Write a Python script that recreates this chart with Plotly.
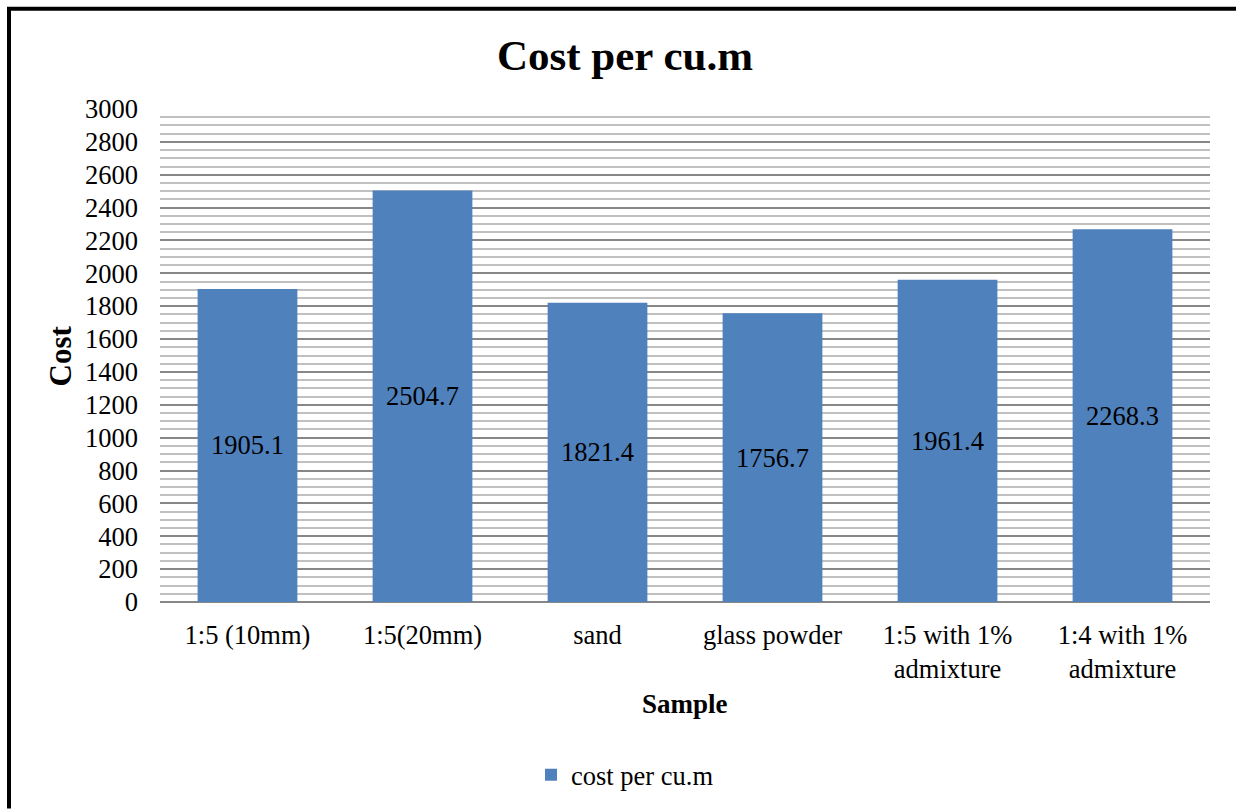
import plotly.graph_objects as go

samples = ["1:5 (10mm)", "1:5(20mm)", "sand", "glass powder",
           "1:5 with 1%<br>admixture", "1:4 with 1%<br>admixture"]
cost = [1905.1, 2504.7, 1821.4, 1756.7, 1961.4, 2268.3]
y_ticks = list(range(0, 3001, 200))

W, H = 1236, 810
L, R, T, B = 160, 26, 109, 207
PW, PH = W - L - R, H - T - B

def px_x(x):
    return (x - L) / PW

def px_y(y):
    return (H - B - y) / PH

FONT = "Liberation Serif, Times New Roman, serif"
BLUE = "#4F81BD"
FS = 26.5

fig = go.Figure()
fig.add_trace(go.Bar(
    x=samples, y=cost, name="cost per cu.m",
    marker=dict(color=BLUE, line=dict(width=0)),
    text=[f"{v:.1f}" for v in cost],
    textposition="inside", insidetextanchor="middle",
    textangle=0,
    textfont=dict(family=FONT, size=FS, color="black"),
    cliponaxis=False,
))

# chart frame: thick black edges along the left and top
frame = [
    dict(type="line", xref="paper", yref="paper",
         x0=px_x(9), x1=px_x(9), y0=px_y(H), y1=px_y(7),
         line=dict(color="black", width=4), layer="above"),
    dict(type="line", xref="paper", yref="paper",
         x0=px_x(7), x1=px_x(W), y0=px_y(8.5), y1=px_y(8.5),
         line=dict(color="black", width=4), layer="above"),
]

fig.update_layout(
    width=W, height=H,
    margin=dict(l=L, r=R, t=T, b=B),
    paper_bgcolor="white", plot_bgcolor="white",
    font=dict(family=FONT, size=FS, color="black"),
    bargap=0.43,
    showlegend=True,
    legend=dict(orientation="h", x=px_x(625), xanchor="center",
                y=px_y(775), yanchor="middle",
                font=dict(family=FONT, size=FS, color="black"),
                itemwidth=30, tracegroupgap=0),
    xaxis=dict(showgrid=False, showline=False, ticks="",
               tickfont=dict(family=FONT, size=FS, color="black"),
               ticklabelstandoff=14),
    yaxis=dict(range=[0, 3000], tickvals=y_ticks,
               showgrid=True, gridcolor="#878787", gridwidth=2,
               minor=dict(dtick=50, tick0=0, showgrid=True,
                          gridcolor="#C0C0C0", gridwidth=2),
               zeroline=True, zerolinecolor="#878787", zerolinewidth=2,
               showline=False, ticks="",
               tickfont=dict(family=FONT, size=FS, color="black"),
               ticklabelstandoff=21),
    annotations=[
        dict(text="<b>Cost per cu.m</b>", xref="paper", yref="paper",
             x=px_x(625), y=px_y(55), xanchor="center", yanchor="middle",
             showarrow=False, font=dict(family=FONT, size=43, color="black")),
        dict(text="<b>Sample</b>", xref="paper", yref="paper",
             x=px_x(685), y=px_y(705), xanchor="center", yanchor="middle",
             showarrow=False, font=dict(family=FONT, size=27, color="black")),
        dict(text="<b>Cost</b>", xref="paper", yref="paper",
             x=px_x(60), y=px_y(357), xanchor="center", yanchor="middle",
             textangle=-90, showarrow=False,
             font=dict(family=FONT, size=31, color="black")),
    ],
    shapes=frame,
)

fig.write_html("out.html", config={"displayModeBar": False})
